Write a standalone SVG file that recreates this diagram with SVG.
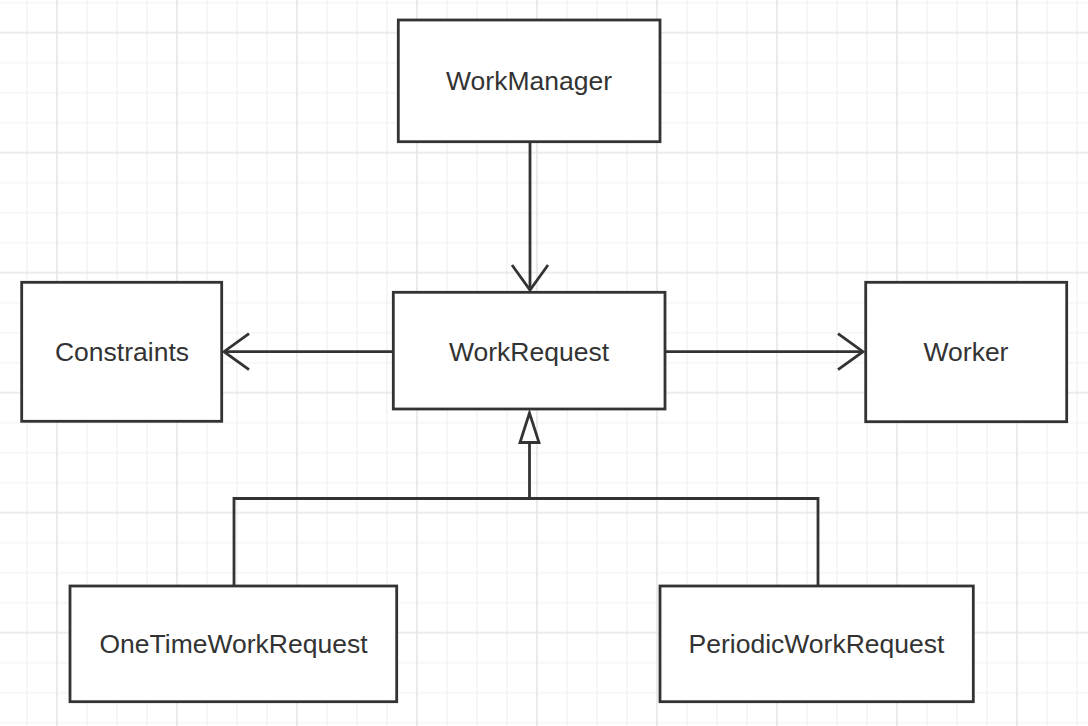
<svg xmlns="http://www.w3.org/2000/svg" width="1088" height="726" viewBox="0 0 1088 726">
  <style>
    .box { fill: #ffffff; stroke: #333333; stroke-width: 2.8; }
    .lbl { font-family: "Liberation Sans", Arial, sans-serif; font-size: 26.5px; fill: #333333; text-anchor: middle; }
    .edge { fill: none; stroke: #333333; stroke-width: 2.8; }
  </style>
  <defs>
    <pattern id="grid" patternUnits="userSpaceOnUse" x="12" y="-12.3" width="120" height="120">
      <path d="M15,0 V120 M75,0 V120 M105,0 V120 M0,15 H120 M0,75 H120 M0,105 H120" stroke="#f0f0f0" stroke-width="1.2" fill="none"/>
      <path d="M45,0 V120 M0,45 H120" stroke="#e6e6e6" stroke-width="1.6" fill="none"/>
    </pattern>
    <marker id="open" markerUnits="userSpaceOnUse" markerWidth="40" markerHeight="44" viewBox="-30 -22 34 44" refX="0" refY="0" orient="auto">
      <path d="M-25,-18 L0,0 L-25,18" fill="none" stroke="#333333" stroke-width="2.8"/>
    </marker>
  </defs>
  <rect x="0" y="0" width="1088" height="726" fill="#ffffff"/>
  <rect x="0" y="0" width="1088" height="726" fill="url(#grid)"/>

  <g id="connectors">
    <path class="edge" d="M530,142 V290" marker-end="url(#open)"/>
    <path class="edge" d="M393,351.7 H224" marker-end="url(#open)"/>
    <path class="edge" d="M665,351.7 H863" marker-end="url(#open)"/>
    <path class="edge" d="M234,586 V498.5 H818 V586"/>
    <path class="edge" d="M529.5,498.5 V442.5"/>
    <polygon points="529.5,413 520,442.5 539,442.5" fill="#ffffff" stroke="#333333" stroke-width="2.8" stroke-linejoin="miter"/>
  </g>

  <g id="node-workmanager">
    <rect class="box" x="398.3" y="20" width="261.7" height="121.7"/>
    <text class="lbl" x="529" y="90">WorkManager</text>
  </g>
  <g id="node-workrequest">
    <rect class="box" x="393.3" y="292.3" width="271.7" height="116.7"/>
    <text class="lbl" x="529" y="360.5">WorkRequest</text>
  </g>
  <g id="node-constraints">
    <rect class="box" x="21.7" y="282.3" width="200" height="139"/>
    <text class="lbl" x="122" y="361">Constraints</text>
  </g>
  <g id="node-worker">
    <rect class="box" x="865.7" y="282.3" width="201" height="139.4"/>
    <text class="lbl" x="966" y="361">Worker</text>
  </g>
  <g id="node-onetime">
    <rect class="box" x="70" y="586" width="326.7" height="115.7"/>
    <text class="lbl" x="233.5" y="653">OneTimeWorkRequest</text>
  </g>
  <g id="node-periodic">
    <rect class="box" x="660" y="586" width="313.3" height="115.7"/>
    <text class="lbl" x="816.5" y="653">PeriodicWorkRequest</text>
  </g>
</svg>
